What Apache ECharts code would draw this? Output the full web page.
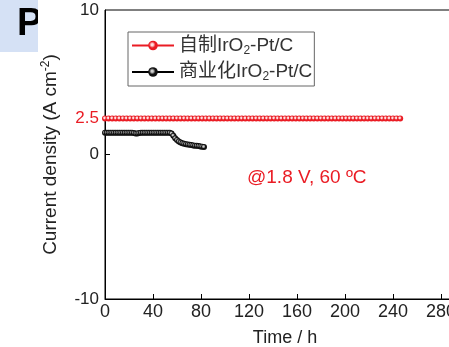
<!DOCTYPE html>
<html><head><meta charset="utf-8">
<script src="https://cdn.jsdelivr.net/npm/echarts@6/dist/echarts.min.js"></script>
<style>html,body{margin:0;padding:0;background:#fff}#c{width:449px;height:347px}</style>
</head><body><div id="c"></div>
<script>
var seriesNames = ['自制IrO2-Pt/C', '商业化IrO2-Pt/C'];
var xTicks = [0, 40, 80, 120, 160, 200, 240, 280];
var yLabels = [-10, 0, 2.5, 10];
var redTime = [0,3,6,9,12,15,18,21,24,27,30,33,36,39,42,45,48,51,54,57,60,63,66,69,72,75,78,81,84,87,90,93,96,99,102,105,108,111,114,117,120,123,126,129,132,135,138,141,144,147,150,153,156,159,162,165,168,171,174,177,180,183,186,189,192,195,198,201,204,207,210,213,216,219,222,225,228,231,234,237,240,243,246];
var redValue = [2.5,2.5,2.5,2.5,2.5,2.5,2.5,2.5,2.5,2.5,2.5,2.5,2.5,2.5,2.5,2.5,2.5,2.5,2.5,2.5,2.5,2.5,2.5,2.5,2.5,2.5,2.5,2.5,2.5,2.5,2.5,2.5,2.5,2.5,2.5,2.5,2.5,2.5,2.5,2.5,2.5,2.5,2.5,2.5,2.5,2.5,2.5,2.5,2.5,2.5,2.5,2.5,2.5,2.5,2.5,2.5,2.5,2.5,2.5,2.5,2.5,2.5,2.5,2.5,2.5,2.5,2.5,2.5,2.5,2.5,2.5,2.5,2.5,2.5,2.5,2.5,2.5,2.5,2.5,2.5,2.5,2.5,2.5];
var blackTime = [0,1.5,3,4.5,6,7.5,9,10.5,12,13.5,15,16.5,18,19.5,21,22.5,24,25.5,27,28.5,30,31.5,33,34.5,36,37.5,39,40.5,42,43.5,45,46.5,48,49.5,51,52.5,54,55.5,57,58.5,60,61.5,63,64.5,66,67.5,69,70.5,72,73.5,75,76.5,78,79.5,81,82.5];
var blackValue = [1.5,1.5,1.5,1.5,1.5,1.5,1.5,1.5,1.5,1.5,1.5,1.5,1.5,1.5,1.5,1.5,1.48,1.45,1.46,1.48,1.5,1.5,1.5,1.5,1.5,1.5,1.5,1.5,1.5,1.5,1.5,1.5,1.5,1.5,1.5,1.5,1.5,1.45,1.3,1.12,1.0,0.9,0.83,0.78,0.74,0.71,0.69,0.67,0.65,0.63,0.61,0.6,0.58,0.56,0.54,0.52];

function pairs(t, v){ return t.map(function(x,i){return [x, v[i]];}); }
var FONT = "'Liberation Sans', Arial, 'Noto Sans CJK SC', sans-serif";
var RED = '#ea1c24';
function grad(edge, mid){
  return {type:'radial', x:0.42, y:0.42, r:0.6, colorStops:[{offset:0,color:mid},{offset:0.18,color:mid},{offset:0.55,color:edge},{offset:1,color:edge}]};
}
var chart = echarts.init(document.getElementById('c'), null, {renderer:'canvas'});
chart.setOption({
  animation:false,
  textStyle:{fontFamily:FONT},
  grid:{left:105, top:10, height:289, width:360, show:true, borderColor:'#000', borderWidth:1, outerBoundsMode:'none', containLabel:false},
  legend:{
    left:128, top:32, orient:'vertical', padding:[4,2,3,3], itemGap:6,
    borderColor:'#666', borderWidth:1, itemWidth:42, itemHeight:12,
    data:seriesNames,
    formatter:function(n){ var p=n.split('IrO2'); return '{a|'+p[0]+'IrO}{s|2}{a|'+p[1]+'}'; },
    textStyle:{color:'#333', rich:{a:{fontSize:19, fontFamily:FONT, color:'#333'}, s:{fontSize:12, fontFamily:FONT, color:'#333', padding:[10,0,0,0]}}}
  },
  xAxis:{
    type:'value', min:0, max:300, interval:40,
    name:'Time / h', nameLocation:'middle', nameGap:30,
    nameTextStyle:{fontSize:18, color:'#222', fontFamily:FONT},
    axisLine:{onZero:false, lineStyle:{color:'#000'}},
    axisTick:{inside:true, length:5, lineStyle:{color:'#000'}},
    axisLabel:{fontSize:18, color:'#222', margin:4, fontFamily:FONT, showMaxLabel:false},
    splitLine:{show:false}
  },
  yAxis:{
    type:'value', min:-10, max:10,
    name:'Current density (A cm{p|-2})', nameLocation:'middle', nameGap:43, nameRotate:90,
    nameTextStyle:{fontSize:19, color:'#222', fontFamily:FONT, rich:{p:{fontSize:12, color:'#222', fontFamily:FONT, padding:[0,0,10,0]}}},
    axisLine:{onZero:false, lineStyle:{color:'#000'}},
    axisTick:{inside:true, length:5, lineStyle:{color:'#000'}, customValues:[0]},
    axisLabel:{fontSize:17, margin:6, fontFamily:FONT, customValues:yLabels,
      color:function(v){ return (+v===2.5)? RED : '#222'; }},
    splitLine:{show:false}
  },
  series:[
    {name:seriesNames[0], type:'line', data:pairs(redTime, redValue), symbol:'circle', symbolSize:6,
     lineStyle:{color:RED, width:1}, itemStyle:{color:grad(RED,'#ffe0e0'), borderWidth:0}, color:RED, z:3},
    {name:seriesNames[1], type:'line', data:pairs(blackTime, blackValue), symbol:'circle', symbolSize:6,
     lineStyle:{color:'#000', width:1}, itemStyle:{color:grad('#111','#d0d0d0'), borderWidth:0}, color:'#000', z:2}
  ],
  graphic:[
    {type:'text', left:247, top:168, style:{text:'@1.8 V, 60 ºC', fill:RED, font:'19px '+FONT}},
    {type:'rect', shape:{x:0,y:0,width:38,height:52}, style:{fill:'#d5e1f5'}, z:10},
    {type:'text', x:17, y:6, style:{text:'P', fill:'#000', font:'bold 38px '+FONT}, z:11},
    {type:'rect', shape:{x:38,y:0,width:20,height:52}, style:{fill:'#fff'}, z:12}
  ]
});
</script></body></html>
